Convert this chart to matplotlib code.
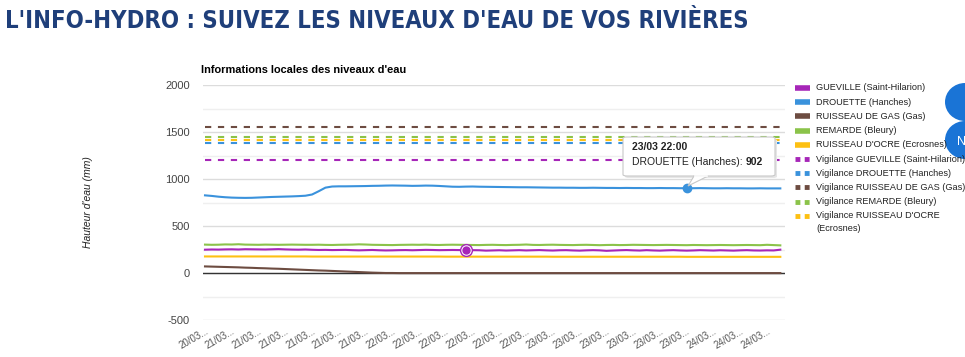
import matplotlib
matplotlib.use("Agg")
import matplotlib.pyplot as plt
import numpy as np
from matplotlib.lines import Line2D
from matplotlib.patches import FancyBboxPatch, Polygon, Ellipse
from matplotlib import font_manager

W, H = 965, 357

# ---------------- data ----------------
x_labels = ["20/03...", "21/03...", "21/03...", "21/03...", "21/03...", "21/03...", "21/03...",
            "22/03...", "22/03...", "22/03...", "22/03...", "22/03...", "22/03...",
            "23/03...", "23/03...", "23/03...", "23/03...", "23/03...", "23/03...",
            "24/03...", "24/03...", "24/03..."]

gueville = [248, 250, 249, 251, 252, 250, 253, 252, 251, 250, 252, 254, 251, 249, 248, 250,
            247, 245, 246, 244, 245, 246, 243, 241, 243, 245, 242, 240, 241, 243, 244, 242,
            244, 246, 245, 243, 244, 245, 244, 245, 243, 242, 238, 240, 242, 239, 241, 243,
            240, 242, 244, 241, 239, 242, 243, 240, 238, 241, 243, 241, 236, 239, 242, 244,
            241, 239, 243, 240, 238, 241, 243, 240, 238, 240, 243, 241, 239, 242, 240, 238,
            241, 243, 240, 239, 241, 240, 248]

drouette = [826, 820, 812, 806, 802, 800, 799, 800, 803, 806, 809, 811, 813, 815, 818, 822,
            835, 870, 908, 920,
            922, 922, 923, 924, 925, 927, 928, 930, 931, 930, 929, 927, 928, 930, 929, 926,
            922, 918, 917, 919, 920, 918, 917, 916, 915, 914, 913, 912, 912, 911, 910,
            909, 908, 908, 907, 907, 906, 906, 907, 906, 905, 905, 904, 905, 904, 904, 903,
            903, 904, 903, 903, 902, 902, 902, 903, 902, 901, 901, 902, 901, 901, 900, 900,
            901, 900, 900, 900]

gas = [70, 68, 66, 64, 62, 60, 57, 55, 52, 50, 47, 45, 42, 39, 36, 33,
       30, 27, 25, 22, 19, 16, 13, 10, 7, 4, 2, 0, 0, -1, -1, -1,
       -1, -1, -1, -1, -1, -1, -1, -1, -1, -1, -1, -1, -1, -1, -1, -1,
       -1, -1, -1, -1, -1, -1, -1, -1, -1, -1, -1, -1, -1, -1, -1, -1,
       -1, -1, -1, -1, -1, -1, -1, -1, -1, -1, -1, -1, -1, -1, -1, -1,
       -1, -1, -1, -1, -1, -1, -1]

remarde = [302, 300, 301, 304, 303, 306, 302, 301, 300, 302, 301, 300, 301, 302, 301, 300,
           300, 301, 299, 298, 300, 301, 302, 305, 303, 300, 299, 298, 297, 299, 300, 301,
           300, 302, 299, 298, 300, 301, 300, 299, 298, 297, 299, 300, 298, 297, 299, 300,
           303, 299, 298, 300, 301, 299, 298, 297, 299, 300, 298, 296, 298, 299, 297, 298,
           300, 299, 298, 297, 298, 299, 298, 297, 296, 298, 297, 296, 297, 298, 297, 296,
           297, 298, 297, 296, 300, 297, 294]

ocre = [176, 176, 176, 176, 176, 176, 176, 176, 176, 176, 176, 176, 176, 176, 176, 176,
        175, 175, 175, 175, 175, 175, 175, 175, 175, 175, 175, 175, 175, 175, 175, 175,
        175, 175, 175, 175, 174, 174, 174, 174, 174, 174, 174, 174, 174, 174, 174, 174,
        174, 174, 174, 174, 173, 173, 173, 173, 173, 173, 173, 173, 173, 173, 173, 173,
        173, 173, 173, 173, 173, 173, 173, 173, 172, 172, 172, 172, 172, 172, 172, 172,
        172, 172, 172, 172, 172, 172, 172]

vig_gueville = 1200
vig_drouette = 1380
vig_gas = 1550
vig_remarde = 1450
vig_ocre = 1410

series_names = ["GUEVILLE (Saint-Hilarion)", "DROUETTE (Hanches)", "RUISSEAU DE GAS (Gas)",
                "REMARDE (Bleury)", "RUISSEAU D'OCRE (Ecrosnes)"]
vig_names = ["Vigilance GUEVILLE (Saint-Hilarion)", "Vigilance DROUETTE (Hanches)",
             "Vigilance RUISSEAU DE GAS (Gas)", "Vigilance REMARDE (Bleury)",
             "Vigilance RUISSEAU D'OCRE\n(Ecrosnes)"]
colors = ["#a626b8", "#3a92dc", "#6d4c41", "#8bc34a", "#fdc012"]

tooltip_date = "23/03 22:00"
tooltip_value = 902
tooltip_idx = 72
highlight_idx = 39

# ---------------- figure ----------------
plt.rcParams['font.family'] = ['Liberation Sans', 'DejaVu Sans']
fig = plt.figure(figsize=(W / 100, H / 100), dpi=100)
fig.patch.set_facecolor("white")

def fx(px):
    return px / W

def fy(py):
    return 1 - py / H

# side buttons (cut off at right edge), drawn first so texts sit above
for cy in (102, 140):
    fig.add_artist(Ellipse((fx(965), fy(cy)), 40 / W, 38 / H, fc="#1a74d6", ec="none",
                           transform=fig.transFigure, zorder=0))
fig.text(fx(957), fy(142), "N", fontsize=9, color="white", va="center", ha="left", zorder=0.5)

ax = fig.add_axes([fx(203), fy(320), fx(785) - fx(203), fy(85) - fy(320)])
ax.set_facecolor("none")
n = len(drouette)
xs = np.arange(n)
ax.set_xlim(-0.3, n - 0.3)
ax.set_ylim(-500, 2000)

# grid
for v in np.arange(-500, 2001, 250):
    major = (v % 500 == 0)
    ax.axhline(v, color="#dcdcdc" if major else "#efefef", lw=1.0, zorder=0)
ax.axhline(0, color="#333333", lw=1.0, zorder=1)

for s in ax.spines.values():
    s.set_visible(False)

vigs = [vig_gueville, vig_drouette, vig_gas, vig_remarde, vig_ocre]
for v, c in zip(vigs, colors):
    ax.plot([xs[0], xs[-1]], [v, v], color=c, lw=1.5, ls=(0, (3, 3.2)), zorder=2)

data = [gueville, drouette, gas, remarde, ocre]
order = [3, 0, 4, 2, 1]
for i in order:
    ax.plot(xs, data[i], color=colors[i], lw=1.5, zorder=3)

# highlighted points
ax.plot([highlight_idx], [gueville[highlight_idx]], marker="o", ms=8.5, mfc="white",
        mec=colors[0], mew=1.0, zorder=5)
ax.plot([highlight_idx], [gueville[highlight_idx]], marker="o", ms=5, mfc=colors[0],
        mec=colors[0], zorder=6)
ax.plot([tooltip_idx], [drouette[tooltip_idx]], marker="o", ms=6, mfc=colors[1],
        mec=colors[1], zorder=6)

ax.set_yticks([-500, 0, 500, 1000, 1500, 2000])
ax.set_yticklabels(["-500", "0", "500", "1000", "1500", "2000"])
ax.set_xticks(np.arange(0, 4 * len(x_labels), 4))
ax.set_xticklabels(x_labels, rotation=30, ha="right", rotation_mode="anchor")
ax.tick_params(axis="y", length=0, pad=9.5, labelsize=8, labelcolor="#444444")
ax.tick_params(axis="x", length=0, pad=4, labelsize=7, labelcolor="#555555")

# titles: prefer a condensed bold face if one is installed
title_kw = dict(family=["DejaVu Sans"], weight="bold")
cands = [f for f in font_manager.fontManager.ttflist
         if ("Condensed" in f.name or "Narrow" in f.name or
             str(f.stretch) in ("condensed", "semi-condensed", "extra-condensed"))]
cands_b = [f for f in cands if str(f.weight) in ("bold", "700", "semibold", "600")
           and f.style == "normal"]
if cands_b:
    title_kw = dict(fontproperties=font_manager.FontProperties(fname=cands_b[0].fname))
elif cands:
    title_kw = dict(fontproperties=font_manager.FontProperties(fname=cands[0].fname))

title = fig.text(fx(5), fy(21), "L'INFO-HYDRO : SUIVEZ LES NIVEAUX D'EAU DE VOS RIVIÈRES",
                 color="#1f3f7a", va="center", ha="left", **title_kw)
title.set_fontsize(17)
fig.canvas.draw()
tw = title.get_window_extent().width
title.set_fontsize(min(21, 17 * 745.0 / tw))

fig.text(fx(201), fy(70), "Informations locales des niveaux d'eau", fontsize=7.9,
         weight="bold", color="#000000", va="center", ha="left")
fig.text(fx(88), fy(202), "Hauteur d'eau (mm)", fontsize=7.5, style="italic",
         rotation=90, color="#222222", va="center", ha="center")

# legend
ly0 = 88
for i in range(5):
    y = fy(ly0 + 14.2 * i)
    fig.add_artist(Line2D([fx(795), fx(810)], [y, y], color=colors[i], lw=4,
                          solid_capstyle="butt"))
    fig.text(fx(816), y, series_names[i], fontsize=6.6, color="#222222", va="center", ha="left",
             zorder=3)
for i in range(5):
    y = fy(ly0 + 14.2 * (i + 5))
    fig.add_artist(Line2D([fx(795), fx(811)], [y, y], color=colors[i], lw=3.5,
                          ls=(0, (1.0, 0.9)), solid_capstyle="butt"))
    fig.text(fx(816), fy(ly0 + 14.2 * (i + 5) - 4.5), vig_names[i], fontsize=6.6,
             color="#222222", va="top", ha="left", linespacing=1.5, zorder=3)

# tooltip (with a faint shadow)
shadow = FancyBboxPatch((fx(625), fy(178)), fx(775) - fx(623), fy(137) - fy(176),
                        boxstyle="round,pad=0,rounding_size=0.004", fc="#e6e6e6", ec="none",
                        transform=fig.transFigure, zorder=9)
fig.add_artist(shadow)
box = FancyBboxPatch((fx(623), fy(176)), fx(775) - fx(623), fy(137) - fy(176),
                     boxstyle="round,pad=0,rounding_size=0.004", fc="white", ec="#c8c8c8",
                     lw=0.8, transform=fig.transFigure, zorder=10)
fig.add_artist(box)
tri = Polygon([(fx(694), fy(176)), (fx(708), fy(176)), (fx(688), fy(186))], closed=True,
              fc="white", ec="#c8c8c8", lw=0.8, transform=fig.transFigure, zorder=10)
fig.add_artist(tri)
fig.add_artist(Line2D([fx(694.6), fx(707.4)], [fy(176), fy(176)], color="white", lw=1.2,
                      zorder=11))
fig.text(fx(632), fy(147), tooltip_date, fontsize=7.5, weight="bold", color="#222222",
         va="center", ha="left", zorder=12)
t1 = fig.text(fx(632), fy(162), "DROUETTE (Hanches): ", fontsize=7.5, color="#222222",
              va="center", ha="left", zorder=12)
fig.canvas.draw()
bb = t1.get_window_extent()
fig.text(bb.x1 / W, fy(162), str(tooltip_value), fontsize=7.5, weight="bold",
         color="#222222", va="center", ha="left", zorder=12)

fig.savefig("out.png", dpi=100, facecolor="white")
